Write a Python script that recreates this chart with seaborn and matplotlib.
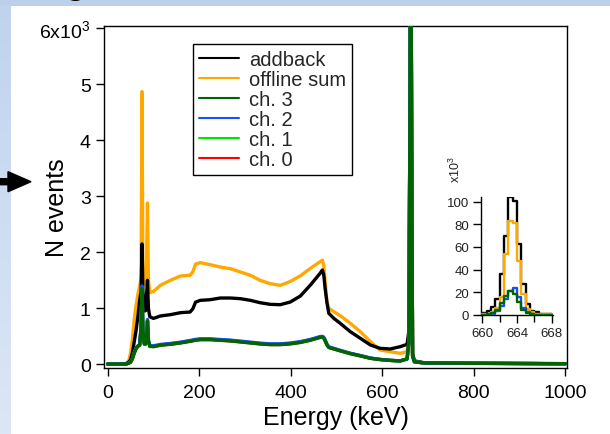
import matplotlib
matplotlib.use('Agg')
import matplotlib.pyplot as plt
import seaborn as sns
import numpy as np
from matplotlib.lines import Line2D
from matplotlib.patches import FancyArrow, Rectangle
from matplotlib.ticker import FixedLocator, FuncFormatter

# ---- main spectrum (counts per channel) ----
energy_kev = [0, 40, 46, 50, 54, 58, 62, 66, 70, 73,
              75, 77, 80, 83, 85, 87, 89, 92, 100, 115,
              137, 159, 180, 186, 192, 202, 224, 246, 268, 290,
              312, 333, 355, 377, 399, 421, 443, 464, 469, 472,
              475, 479, 483, 494, 508, 530, 552, 574, 595, 617,
              639, 654, 658, 660, 662, 664, 666, 670, 690, 800,
              1000]

addback = [5, 10, 40, 80, 200, 400, 600, 850, 1150, 1300,
           2150, 1300, 950, 960, 1250, 1500, 1000, 850, 820, 863,
           887, 922, 934, 990, 1110, 1142, 1154, 1184, 1184, 1172,
           1142, 1100, 1071, 1065, 1113, 1220, 1417, 1625, 1684, 1600,
           1357, 1100, 911, 821, 732, 583, 464, 345, 286, 274,
           315, 357, 600, 4000, 9000, 4000, 200, 60, 30, 20,
           12]

offline_sum = [5, 10, 60, 200, 450, 800, 1050, 1250, 1400, 1550,
               4870, 1600, 1420, 1430, 1900, 2880, 1500, 1280, 1300, 1410,
               1500, 1577, 1590, 1650, 1790, 1815, 1779, 1737, 1708, 1648,
               1589, 1500, 1440, 1410, 1480, 1580, 1714, 1833, 1860, 1774,
               1476, 1119, 1000, 940, 869, 732, 583, 405, 256, 226,
               196, 226, 500, 4000, 9000, 4000, 200, 60, 30, 20,
               12]

ch3 = [5, 5, 20, 40, 100, 200, 280, 320, 340, 650,
       1350, 600, 360, 360, 450, 770, 420, 320, 315, 340,
       357, 381, 410, 420, 430, 440, 440, 428, 417, 399,
       381, 363, 351, 351, 365, 390, 430, 480, 485, 470,
       420, 345, 300, 274, 240, 190, 150, 107, 85, 70,
       60, 95, 400, 4000, 9000, 4000, 150, 45, 25, 18,
       10]

ch2 = [5, 5, 20, 45, 105, 210, 290, 330, 355, 680,
       1400, 620, 375, 375, 470, 800, 430, 335, 330, 355,
       372, 396, 425, 435, 445, 455, 455, 443, 432, 414,
       396, 378, 366, 366, 380, 405, 445, 495, 500, 485,
       435, 360, 312, 285, 250, 198, 157, 112, 88, 72,
       62, 98, 400, 4000, 9000, 4000, 150, 45, 25, 18,
       10]

ch1 = [5, 5, 20, 42, 102, 205, 285, 325, 348, 665,
       1360, 610, 368, 368, 460, 780, 425, 328, 323, 348,
       365, 389, 418, 428, 438, 448, 448, 436, 425, 407,
       389, 371, 359, 359, 373, 398, 438, 488, 493, 478,
       428, 352, 306, 280, 245, 194, 154, 110, 87, 71,
       61, 96, 400, 4000, 9000, 4000, 150, 45, 25, 18,
       10]

ch0 = [5, 5, 20, 41, 101, 203, 283, 323, 344, 655,
       1340, 605, 364, 364, 455, 775, 423, 324, 319, 344,
       361, 385, 414, 424, 434, 444, 444, 432, 421, 403,
       385, 367, 355, 355, 369, 394, 434, 484, 489, 474,
       424, 349, 303, 277, 243, 192, 152, 108, 86, 70,
       60, 95, 400, 4000, 9000, 4000, 150, 45, 25, 18,
       10]

# ---- 662 keV peak inset (x10^3 counts per 0.5 keV bin) ----
peak_edges = [660.0, 660.5, 661.0, 661.5, 662.0, 662.5, 663.0, 663.5,
              664.0, 664.5, 665.0, 665.5, 666.0, 666.5, 667.0, 667.5, 668.0]
peak_addback = [1.5, 3.5, 6.5, 14, 36, 70, 104.5, 101, 63, 27, 9.5, 3.5, 2, 1, 0.5, 0.5]
peak_offline = [0.5, 1, 2, 6, 16, 53.5, 83, 81.5, 48, 18, 5, 2, 1, 0.5, 0.3, 0.3]
peak_ch2 = [0, 0, 1, 3, 8, 14, 21, 24, 16, 6, 2, 0.5, 0, 0, 0, 0]
peak_ch3 = [0, 0.5, 1.5, 4, 10, 17, 21, 18, 11, 4, 1.5, 0.5, 0, 0, 0, 0]

legend_labels = ['addback', 'offline sum', 'ch. 3', 'ch. 2', 'ch. 1', 'ch. 0']
colors = {'addback': '#000000', 'offline sum': '#ffa800', 'ch. 3': '#006400',
          'ch. 2': '#1a4dff', 'ch. 1': '#00e600', 'ch. 0': '#ff0000'}

sns.set_theme(style='ticks')
plt.rcParams['font.family'] = ['Liberation Sans', 'DejaVu Sans']
plt.rcParams['mathtext.fontset'] = 'custom'
plt.rcParams['mathtext.rm'] = 'Liberation Sans'
plt.rcParams['mathtext.default'] = 'regular'

W, H = 610, 435
fig = plt.figure(figsize=(W / 100, H / 100), dpi=100)
fig.patch.set_facecolor('white')

# slide background pieces
strip = fig.add_axes([0, 0, 10.5 / W, 1])
grad = np.linspace(0, 1, 256).reshape(-1, 1)
strip.imshow(grad, aspect='auto', cmap=matplotlib.colors.LinearSegmentedColormap.from_list(
    'bl', ['#bfd3ee', '#dce7f5']), extent=[0, 1, 0, 1])
strip.axis('off')
fig.add_artist(Rectangle((0, 1 - 7 / H), 1, 7 / H, transform=fig.transFigure,
                         facecolor='#bccfeb', edgecolor='none'))
# tail of the slide title showing above the plot panel
fig.text(75 / W, 1 + 7 / H, 'g', fontsize=28, ha='center', va='baseline', color='black')
fig.add_artist(FancyArrow(0, 1 - 182.7 / H, 31 / W, 0, width=6 / H, head_width=20 / H,
                          head_length=23 / W, length_includes_head=True,
                          color='black', transform=fig.transFigure))

# main axes
ax = fig.add_axes([104 / W, 1 - 369.3 / H, 463.3 / W, 342.3 / H])
series = [('offline sum', offline_sum), ('addback', addback), ('ch. 0', ch0),
          ('ch. 1', ch1), ('ch. 2', ch2), ('ch. 3', ch3)]
for z, (name, vals) in enumerate(series):
    sns.lineplot(x=energy_kev, y=vals, ax=ax, color=colors[name], linewidth=2.4,
                 estimator=None, sort=False, zorder=2 + z)

ax.set_xlim(-8, 1004)
ax.set_ylim(-71, 6041)
ax.xaxis.set_major_locator(FixedLocator([0, 200, 400, 600, 800, 1000]))
ax.yaxis.set_major_locator(FixedLocator([0, 1000, 2000, 3000, 4000, 5000, 6000]))
ax.yaxis.set_major_formatter(FuncFormatter(
    lambda v, p: r'6x10$^{3}$' if v == 6000 else f'{int(v / 1000)}'))
ax.tick_params(axis='both', direction='out', length=5.5, width=1.0, labelsize=14,
               color='black', labelcolor='black')
ax.tick_params(axis='x', pad=6)
ax.tick_params(axis='y', pad=4)
for s in ax.spines.values():
    s.set_visible(True)
    s.set_linewidth(1.0)
    s.set_color('black')
ax.set_xlabel('Energy (keV)', fontsize=18, labelpad=3, color='black')
ax.set_ylabel('')
fig.text(57 / W, 1 - 208 / H, 'N events', rotation=90, fontsize=18,
         ha='center', va='center', color='black')

handles = [Line2D([], [], color=colors[n], linewidth=1.5) for n in legend_labels]
leg = ax.legend(handles, legend_labels, loc='upper left',
                bbox_to_anchor=(192.7 / W, 1 - 45 / H), bbox_transform=fig.transFigure,
                frameon=True, fancybox=False, edgecolor='black', framealpha=1,
                fontsize=14.5, handlelength=2.0, handletextpad=0.5,
                labelspacing=0.05, borderpad=0.3, borderaxespad=0)
leg.get_frame().set_linewidth(1.0)
leg.set_zorder(20)

# inset on the 662 keV peak
axi = fig.add_axes([481 / W, 1 - 315.7 / H, 71.7 / W, 117.4 / H])
axi.set_facecolor('none')
for z, (name, vals) in enumerate([('addback', peak_addback), ('offline sum', peak_offline),
                                  ('ch. 2', peak_ch2), ('ch. 3', peak_ch3)]):
    sns.lineplot(x=peak_edges, y=vals + [vals[-1]], ax=axi, color=colors[name],
                 linewidth=1.7, drawstyle='steps-post', estimator=None, sort=False,
                 zorder=2 + z)
axi.set_xlim(659.85, 668.1)
axi.set_ylim(0, 104)
axi.xaxis.set_major_locator(FixedLocator([660, 664, 668]))
axi.xaxis.set_minor_locator(FixedLocator([662, 666]))
axi.yaxis.set_major_locator(FixedLocator([0, 20, 40, 60, 80, 100]))
axi.tick_params(axis='both', which='major', direction='out', length=5.5, width=1.0,
                labelsize=9.5, color='black', labelcolor='#222222', pad=3)
axi.tick_params(axis='x', which='minor', direction='out', length=5, width=1.0, color='black')
axi.spines['top'].set_visible(False)
axi.spines['right'].set_visible(False)
for k in ('left', 'bottom'):
    axi.spines[k].set_linewidth(1.0)
    axi.spines[k].set_color('black')
axi.set_xlabel('')
axi.set_ylabel('')
fig.text(455 / W, 1 - 170 / H, r'x10$^{3}$', rotation=90, fontsize=9,
         ha='center', va='center', color='#222222')

fig.savefig('out.png', dpi=100)
